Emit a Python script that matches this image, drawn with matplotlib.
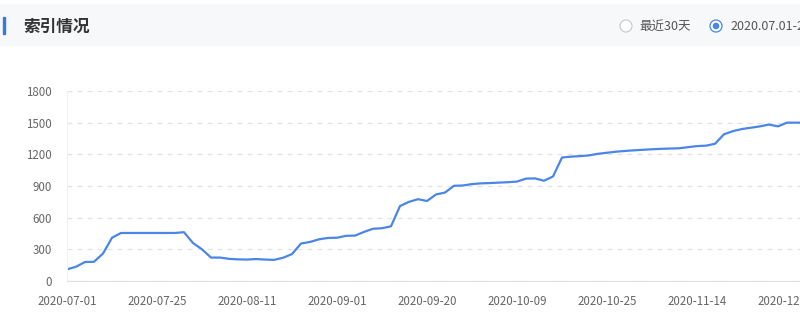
import numpy as np
import matplotlib.pyplot as plt
from matplotlib.patches import Rectangle, Circle

plt.rcParams['font.family'] = ['Noto Sans CJK SC', 'DejaVu Sans']

# Data
title = '索引情况'
radio_labels = ['最近30天', '2020.07.01-2020.12.31']
tick_labels = ['2020-07-01', '2020-07-25', '2020-08-11', '2020-09-01', '2020-09-20',
               '2020-10-09', '2020-10-25', '2020-11-14', '2020-12-04']
label_every = 10
index_counts = [110, 135, 180, 182, 260, 410, 455, 455, 455, 455,
                455, 455, 455, 462, 360, 300, 222, 222, 210, 205,
                203, 208, 203, 200, 220, 255, 355, 370, 395, 408,
                410, 428, 430, 465, 495, 500, 518, 710, 750, 775,
                758, 820, 838, 902, 905, 918, 925, 928, 932, 936,
                942, 970, 972, 950, 990, 1170, 1178, 1183, 1190, 1205,
                1215, 1225, 1232, 1238, 1243, 1248, 1252, 1255, 1257, 1268,
                1278, 1282, 1300, 1390, 1420, 1440, 1452, 1465, 1482, 1465,
                1500, 1500, 1500]
y_ticks = [0, 300, 600, 900, 1200, 1500, 1800]

W, H = 800, 317
fig = plt.figure(figsize=(W / 100, H / 100), dpi=100)
fig.patch.set_facecolor('white')

# Chart axes (extends past right edge, like the cropped screenshot)
x0, x_last, n_show = 67, 805, len(index_counts) - 1
ax = fig.add_axes([x0 / W, (H - 281) / H, (x_last - x0) / W, (281 - 91) / H])
x = np.arange(len(index_counts))
ax.plot(x, index_counts, color='#4a86e8', lw=1.6, solid_joinstyle='round')
ax.set_xlim(0, n_show)
ax.set_ylim(0, 1800)
ax.set_yticks(y_ticks)
ax.set_yticklabels([str(v) for v in y_ticks])
ax.set_xticks(np.arange(len(tick_labels)) * label_every)
ax.set_xticklabels(tick_labels)
ax.tick_params(axis='both', length=0, labelsize=8.3, colors='#666666')
ax.tick_params(axis='y', pad=11)
ax.tick_params(axis='x', pad=10)
ax.grid(axis='y', color='#e3e3e3', linestyle=(0, (4, 4)), linewidth=0.9)
ax.set_axisbelow(True)
for s in ['top', 'right']:
    ax.spines[s].set_visible(False)
ax.spines['bottom'].set_color('#e0e0e0')
ax.spines['left'].set_color('#f0f0f0')

# Header overlay in pixel coordinates
ov = fig.add_axes([0, 0, 1, 1])
ov.set_xlim(0, W)
ov.set_ylim(H, 0)
ov.axis('off')
ov.add_patch(Rectangle((0, 4), W, 41, color='#f7f8fa', zorder=0))
ov.add_patch(Rectangle((3, 17), 2, 17, color='#3b78db', zorder=1))
ov.text(23, 26.5, title, fontsize=12, fontweight='bold', color='#333333', va='center', ha='left')
ov.add_patch(Circle((626, 26), 6, facecolor='white', edgecolor='#cccccc', lw=0.9, zorder=2))
ov.text(639, 26, radio_labels[0], fontsize=9, color='#555555', va='center', ha='left')
ov.add_patch(Circle((716, 26), 6, facecolor='white', edgecolor='#4a86e8', lw=0.9, zorder=2))
ov.add_patch(Circle((716, 26), 2.6, color='#4a86e8', zorder=3))
ov.text(730, 26, radio_labels[1], fontsize=9, color='#555555', va='center', ha='left')

fig.savefig('out.png', dpi=100)
